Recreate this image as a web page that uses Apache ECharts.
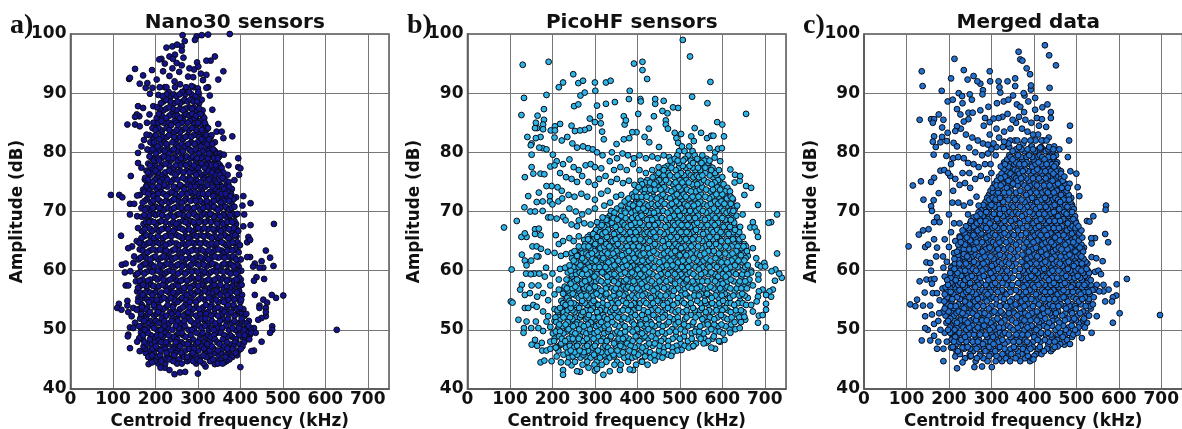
<!DOCTYPE html>
<html><head><meta charset="utf-8">
<style>html,body{margin:0;padding:0;background:#fff}#c{width:1182px;height:429px}</style>
<script src="https://cdn.jsdelivr.net/npm/echarts@6/dist/echarts.min.js"></script>
</head><body><div id="c"></div>
<script>
const panelTags=['a)','b)','c)'];
const panelTitles=['Nano30 sensors','PicoHF sensors','Merged data'];
const xTicks=[0,100,200,300,400,500,600,700];
const yTicks=[40,50,60,70,80,90,100];
const xName='Centroid frequency (kHz)';
const yName='Amplitude (dB)';

const nanoSparse=[[95,72.8],[115,72.8],[122,72.4],[140,92.6],[138,92.4],[152,94.1],[134,84.7],[152,86],[152,84.7],[119,65.9],[142,76],[140,71.3],[150,71.3],[140,69.5],[136,63.8],[145,64.1],[121,61],[130,61.2],[128,59.7],[141,59.9],[130,57.5],[136,57.5],[114,54.4],[110,53.7],[120,53.4],[134,54.9],[134,54.1],[136,53],[144,52.3],[140,50.4],[148,50.3],[136,49.2],[135,48.9],[140,46.9],[163,46.4],[157,48],
[627,50],[501,55.8],[484,55.4],[474,55.9],[479,67.9],[460,63.4],[470,62.2],[450,61.6],[478,60.8],[454,60.5],[445,60.5],[456,58.6],[438,58.9],[432,58.3],[434,61.2],[430,60.7],[423,62.3],[416,62.3],[434,55.9],[454,55.1],[463,54.6],[445,54.1],[445,53.7],[460,53.7],[460,53],[460,52.3],[450,52],[442,51.7],[475,50.6],[475,50],[470,49.5],[450,48],[432,46.5],[426,46.4],[400,43.7],[436,49.5],[432,50.3],[424,71.4],[407,72.6],[390,72.4],[405,71],[409,69.5],[424,67.7],[407,67.5],[419,65.7],[423,65.2],[416,64.8],[395,77.5],[400,77.3],[395,79],[397,76.2],[386,75.3],[381,82.7],[372,77.8],[360,82.4],[348,84.8],[356,83.5],[344,83.5],[352,79.8],[361,79.6],[360,93.7],[348,92.3],[340,96.2],[320,95.5],[330,95.5],[298,95.2],[328,89.6],[334,87.2],[324,91],[320,90.9],
[264,99.8],[269,98.8],[240,97.9],[251,98.2],[226,97.7],[262,97.9],[262,97.2],[293,99],[297,99.6],[309,99.8],[324,99.9],[375,100],[233,96.2],[241,95.8],[266,96],[246,96.5],[214,95.8],[209,95.7],[222,95],[250,95.1],[262,94.7],[301,94.5],[291,94],[320,93.1],[192,93.9],[171,93],[181,91.7],[163,91.6],[177,90.9],[193,90.9],[187,89.9],[159,87.8],[171,87.5],[195,87.8],[207,89.7],[203,92.3],[218,93.7],[233,92.9],[226,91],[210,91],[277,92.8],[289,92.7],[245,92],[258,91.5],[270,90.5],[285,91.2],[300,90.8],[312,92.2],[256,93.6],[307,93.3],[240,94.2],[280,94.2],
[159,79.9],[159,78.2],[167,77.4],[175,75.4],[171,73.7],[157,72.7],[163,72.8],[167,70.6],[157,69.2],[159,67.2],[156,65],[162,64.7],[150,62.4],[148,61.3],[154,59.3],[154,58.2],[157,56.5],[159,54.8],[148,53.7],[156,53.4],[152,51.2],[162,50.6],[162,48.6],[162,86.1],[156,86.4],[163,84.4],[179,83],[173,82.1],[167,81],[180,85],[186,86.4],[195,85],[233,43.2],[245,42.5],[258,42.8],[270,42.9],[300,42.6],[222,43.6],[212,43.6],[184,44.2],[192,44.5],[318,43.8],[340,44.2],[362,44.5]];
const nanoCore=[
[44.3,207,223,251,262,296,313,347,358],
[45,190,219,233,255,281,299,336,352,374],
[45.4,183,204,241,268,275,307,320,365,381],
[46.1,177,196,226,247,261,288,317,341,355,389],
[46.5,185,212,236,270,301,328,347,372,396],
[47.2,172,201,219,243,258,283,309,333,362,384,405],
[47.6,179,190,229,266,276,296,322,351,377,398],
[48.4,170,187,208,236,251,288,304,340,359,390,412,421],
[48.8,196,217,243,271,319,330,369,381,405],
[49.5,166,182,225,255,262,297,311,345,354,395,416,426],
[50,175,204,213,240,278,286,326,337,373,388,408],
[50.7,168,193,222,248,269,303,317,350,366,400,419],
[51.1,183,208,232,259,290,325,341,380,394,414],
[51.9,164,178,215,240,251,279,308,318,358,371,403],
[52.4,172,197,226,265,296,331,347,386,410],
[53,187,206,235,249,277,312,324,363,378,399],
[53.5,161,176,218,258,288,303,340,354,392,407],
[54.2,168,196,229,243,270,319,332,371,384],
[54.7,185,207,252,281,295,348,361,400],
[55.4,160,176,220,236,263,308,325,379,393],
[55.9,170,193,211,246,274,289,337,353,369,404],
[56.6,181,226,257,300,316,344,386,397],
[57.1,159,203,236,268,282,328,361,375],
[57.6,171,190,217,249,293,309,339,353,392,403],
[58.3,163,182,228,260,275,320,331,368,384],
[58.8,199,213,241,285,301,347,360,397],
[59.5,158,174,222,253,270,312,326,377,390],
[60,186,205,234,292,306,338,355,369,402],
[60.7,165,196,216,247,263,279,320,347,384,396],
[61.2,176,228,258,297,334,362,375],
[61.9,160,188,207,240,271,288,311,325,390,401],
[62.4,170,200,219,252,302,340,355,370,383],
[63.1,181,231,264,278,318,331,363,396],
[63.6,163,194,211,245,291,307,348,376,388],
[64.3,174,224,256,272,326,338,367,399],
[64.8,186,204,238,285,299,315,356,382,393],
[65.5,167,197,218,263,277,333,347,372],
[66,179,230,250,292,308,322,363,388],
[66.7,168,192,209,242,270,286,339,354,379,395],
[67.2,184,222,258,301,315,330,368,384],
[67.9,172,201,236,249,277,293,346,360,390],
[68.4,190,214,265,284,307,323,376,386],
[69.1,168,180,228,243,272,299,338,353,367],
[69.6,196,209,256,290,316,329,361,382,393],
[70.3,175,186,221,238,267,283,306,347,373],
[70.8,201,250,276,298,322,338,365,386],
[71.5,170,190,215,232,262,311,330,354,379],
[72.1,180,205,244,272,289,345,367,384],
[72.6,195,226,256,302,319,336,358,376],
[73.3,174,213,238,281,293,328,349,370],
[73.8,186,203,250,268,310,340,362,380],
[74.5,180,221,258,276,298,322,352,368],
[75,193,210,236,288,307,336,345,372],
[75.7,176,203,225,265,280,316,329,358],
[76.2,187,216,247,296,308,340,352,370],
[76.9,179,200,232,258,274,325,345],
[77.4,192,211,243,286,300,316,337,356],
[78.1,183,224,265,279,309,328,348],
[78.6,197,209,236,252,295,322,341],
[79.3,186,219,246,274,288,314,333,350],
[79.8,201,231,261,302,326,345],
[80.5,181,193,214,243,280,294,318,336],
[81,205,228,255,270,307,329],
[81.7,188,197,221,240,284,299,316,340],
[82.2,209,250,265,308,326],
[82.9,186,201,232,276,290,320,332],
[83.4,215,244,258,303,313],
[84.1,193,207,226,271,286,324],
[84.6,199,237,254,296,310,318],
[85.3,214,245,266,281,304],
[85.8,203,225,258,292,315],
[86.5,208,238,272,286,306],
[87.1,219,250,265,297,311],
[87.6,204,232,279,290],
[88.3,213,244,258,303],
[88.9,225,269,283,309],
[89.5,217,237,250,295],
[90.2,231,263,279,301],
[91,222,246,272,290]
];
const nanoFill=[
[44.7,198,214,242,275,289,305,329,344,367],
[45.7,192,211,228,244,264,284,294,313,329,349,366,378,392],
[46.8,176,193,206,223,241,254,279,291,314,324,337,358,369,381,401],
[47.9,174,199,213,225,248,261,279,300,315,328,346,368,387,409],
[49.1,171,189,204,213,231,250,265,283,306,324,338,362,376,398,410,422],
[50.3,166,181,197,218,230,255,263,291,309,332,345,357,381,397,414,424],
[51.5,173,187,201,221,238,252,268,283,300,316,333,352,367,386,403,420],
[52.7,166,183,203,215,239,254,271,284,305,319,338,357,372,393,404,414],
[53.8,168,181,198,210,225,241,265,280,296,312,329,347,368,384,399],
[55.1,165,181,191,203,213,229,244,258,272,285,301,316,333,343,360,372,386,402],
[56.3,165,176,188,199,214,232,242,252,268,282,294,308,323,336,351,365,376,392],
[57.4,164,178,195,208,223,241,254,274,287,301,314,334,347,368,381,398],
[58.5,169,188,205,219,235,248,265,280,294,307,325,340,354,373,391,401],
[59.8,164,179,193,211,227,241,260,275,286,299,316,331,344,360,371,384,394],
[61,171,181,191,210,222,236,252,268,284,302,314,328,341,358,370,379,392],
[62.2,165,178,194,214,225,237,247,262,280,294,307,319,332,348,363,378,387],
[63.4,170,187,203,218,225,240,254,270,285,298,312,325,339,356,369,381,392],
[64.6,168,181,193,210,218,232,249,265,278,291,306,320,332,344,361,374,387],
[65.8,173,188,206,224,237,256,270,284,298,314,327,340,354,367,379,391],
[67,175,189,203,215,230,246,264,279,295,309,323,336,349,360,373,391],
[68.2,178,185,196,208,224,242,256,271,290,303,316,331,344,355,369,381],
[69.4,174,186,201,216,235,250,264,278,294,309,323,334,347,360,376,388],
[70.6,180,194,209,214,229,244,261,275,291,312,327,341,353,368,380],
[71.8,175,195,210,225,239,254,268,283,295,305,321,338,350,361,373],
[73,183,192,206,219,232,246,262,275,287,300,312,324,343,356,365,378],
[74.2,178,194,208,216,228,243,255,264,283,293,304,317,334,346,358,374],
[75.4,183,199,215,228,243,252,271,283,295,313,326,339,351,363],
[76.6,183,193,206,223,238,252,266,280,291,303,320,333,347,360],
[77.8,187,199,215,232,248,258,272,291,305,320,332,342,352],
[79,192,205,214,230,241,260,269,283,298,308,323,338,347],
[80.2,188,207,222,237,252,265,285,297,311,325,340],
[81.4,194,212,226,248,262,277,292,304,322,334],
[82.6,194,216,227,244,258,271,284,303,316,330],
[83.8,200,212,233,250,264,279,296,309,320],
[85,207,219,232,250,262,276,290,300,316],
[86.2,215,233,246,252,268,280,296,311],
[87.4,210,226,241,258,271,286,303],
[88.6,219,235,252,264,276,290,298],
[89.8,226,243,257,270,285,302]
];

const picoSparse=[[86,67.3],[104,60.2],[102,54.8],[106,54.6],[116,68.4],[120,51.7],[130,94.8],[191,95.3],[133,89.2],[127,86.3],[186,89.7],[180,87.3],[165,86.2],
[507,99],[524,96.2],[392,95],[412,95.3],[412,93.9],[423,92.4],[572,91.9],[249,93.2],[225,91.8],[215,91],[261,91.7],[272,92.1],[300,91.8],[301,90.4],[266,89.6],[276,90.1],[326,91.8],[337,92.1],[382,90.4],[380,89],[407,89],[408,88.6],[442,89],[442,88.2],[462,88.7],[484,87.6],[496,87.5],[529,89.4],[565,88.3],[656,86.5],[251,87.8],[261,88.1],[305,87.9],[326,88.2],[347,88.5],[368,86.1],[373,85.4],[370,84.7],[402,86.5],[439,86.1],[459,87],[471,86.6],[467,85.4],[467,84.7],[472,84],[535,84.1],[550,83.3],[564,82.4],[574,82.8],[579,82.8],[588,85.1],[600,84.7],[604,82.7],[590,80.6],[599,80.7],[570,80.7],[527,82.7],[533,81.9],[503,83.1],[488,83.3],[492,82.4],[496,81.6],[427,84],[417,82.6],[428,81.7],[451,80.9],[398,83.4],[388,83.4],[368,82.2],[381,82.4],[351,81.4],[317,83.5],[321,82.2],[312,86.1],[288,85.7],[300,85.1],[314,84.9],[286,84.1],[276,83.8],[265,83.7],[253,83.6],[245,84.5],[218,84.8],[206,84.4],[196,83.7],[206,83.7],[164,84.1],
[141,82.6],[159,84.1],[161,85],[180,85.5],[178,84.7],[178,83.9],[172,82.6],[161,82.4],[151,81.5],[149,81.2],[151,79.6],[169,80.8],[177,80.7],[186,80.5],[201,79.6],[151,77.5],[155,76.4],[172,76.4],[181,76.3],[135,75.8],[186,74.3],[198,74.3],[212,74.1],[143,72.6],[168,73.2],[163,71.6],[177,71.7],[134,70.7],[148,70],[159,70],[177,70.1],[194,72.6],[194,71.7],[200,71.2],[214,71.7],[223,72.2],[190,69],[196,69],[210,68.8],[225,69.1],[231,68.5],[127,65.7],[135,66.3],[139,65.7],[159,67],[168,67.1],[159,66.2],[172,66],[153,64.1],[163,64.1],[173,63.7],[189,63.2],[128,62.7],[135,61.7],[139,60.9],[150,61.7],[163,62.4],[167,62.4],[185,60.5],[138,59.5],[149,59.4],[157,59.5],[169,59.5],[182,59],[128,57.6],[124,56.8],[135,55.9],[147,56.2],[151,57.5],[167,57.5],[178,56.2],[164,55.6],[135,53.7],[143,53.7],[155,54.2],[163,53.9],[178,53.1],[139,51.4],[161,51.4],[186,51.4],[133,50.3],[132,49.5],[150,50.3],[167,50.3],[159,48.3],[151,47.5],[164,47.3],[175,47.8],[176,46.5],[172,44.5],[181,44.8],[198,44.7],[225,43.2],[225,42.4],[186,46.5],
[205,82.5],[222,82],[235,82.6],[247,81.5],[258,80.8],[272,81],[284,80.7],[295,80.5],[305,80],[318,79.5],[335,78.5],[210,78.5],[225,78],[240,78.8],[250,77.5],[262,77],[278,77.8],[290,78],[300,77.5],[315,77.3],[195,77.6],[205,77.8],[218,76.5],[232,75.8],[245,75.5],[258,75],[270,76],[285,75],[300,74.5],[222,73.5],[238,72.8],[252,72.5],[268,73],[282,72.5],[300,72],[315,73],[330,73.5],[240,70.5],[255,70],[270,69.5],[285,70],[300,70.5],[245,67.8],[258,67.5],[240,65.5],[225,65],[215,64.5],[208,66],[220,62.5],[205,63],[200,59.5],[215,58.5],[195,57.5],[205,56],[190,55],[205,53.5],[195,50.5],[205,48.5],[195,46.8],[210,45.5],[220,47.5],[220,44.5],[236,44.5],
[340,80],[352,79],[365,79.8],[378,79.5],[392,79],[405,79.5],[420,79],[435,79.3],[448,79],[462,79.5],[475,79.2],[345,77],[360,77.5],[375,77],[390,78],[405,77],[420,76.5],[435,77],[450,77.5],
[310,75.5],[325,76],[338,75],[352,75.5],[366,74.8],[380,75.2],[393,74.5],[408,75.2],[322,71],[336,71.5],[350,72.5],[362,72.8],[376,72],[262,68.5],[275,68],[290,67.8],[305,68.2],[318,69],[332,68.5],[345,69.2],[250,65],[262,65.8],[275,65.2],[288,66],[232,62.8],[245,63],[258,62.5],[218,60.3],[230,60.5],[243,60],[215,56.8],[228,57],[213,53],[225,54],[190,52.3],[178,49.8],[205,51.5],[215,50.5],[195,48],[208,47],
[740,58.8],[734,59.5],[725,60.2],[716,59.9],[729,62.9],[729,69.5],[715,68.2],[709,68.1],[684,71.1],[672,68.2],[666,67.3],[676,67.3],[681,66.6],[684,65.7],[724,58.3],[719,56.8],[711,56.5],[703,55.9],[715,55.6],[703,54.4],[703,53.4],[695,52.5],[686,52.4],[684,51.2],[703,50.4],[699,61.3],[701,60.7],[684,61],[691,60.7],[685,59.3],[685,58.5],[695,56.8],[686,56.5],[684,55.6],[681,54.8],[668,54.2],[672,53.1],[654,51.7],[641,50.3],[652,52.2],[672,63.8],[656,64.1],[680,62.1],[668,74],[656,74.3],[652,72.8],[641,75.2],[630,76.2],[642,76],[619,77.1],[629,74.9],[595,78.5],[582,79.1],[583,80],[612,74],[625,72],[635,71],[648,69.5],[660,62.5],[668,60],[672,57.5],[660,58],
[583,46.8],[574,47],[595,48],[605,48.3],[619,49.5],[562,47.8],[531,47.2],[504,46.6],[480,45.6],[320,42.4],[359,43.2],[390,43.2],[382,43.3],[441,44.8],[335,43],[410,44.7],[265,42.9],[258,43],[285,43.6],[300,43.1],[245,44],[305,43.4]];
const picoCore=[
[44.1,271,299,316,346,361,397,424],
[44.6,253,282,304,327,352,378,411],
[45.3,239,266,290,312,335,369,388,431,459],
[45.8,226,258,273,298,321,344,358,402,440,472],
[46.5,214,243,264,284,307,338,353,381,420,451,494],
[47,209,232,251,276,295,319,331,367,394,412,463,482,521],
[47.7,221,240,262,286,303,345,361,376,428,441,502,538,556],
[48.1,204,230,255,272,314,328,351,389,405,456,473,519,567,592],
[48.9,216,246,265,291,307,338,372,396,417,433,491,510,545,580],
[49.4,201,226,254,280,299,322,347,360,411,449,466,528,556,602],
[50.1,212,238,263,288,312,333,381,399,426,482,502,539,574,617,631],
[50.6,224,249,274,303,323,356,371,416,441,460,519,548,590,608],
[51.3,209,236,258,291,315,341,388,407,431,474,497,532,565,629,644],
[51.8,219,247,279,300,329,362,377,420,451,484,512,553,581,612],
[52.5,213,233,268,286,319,346,395,411,438,465,526,544,597,636],
[53,226,252,272,305,336,358,384,425,457,490,508,561,577,620,650],
[53.7,218,243,263,295,316,347,370,404,442,472,531,552,593,607],
[54.2,231,256,282,308,330,385,398,429,461,485,517,568,584,628,656],
[54.9,221,240,270,297,351,366,415,447,477,504,541,559,602,642],
[55.4,235,262,285,319,336,381,396,432,461,496,525,575,591,618,660],
[56.1,225,248,275,304,327,358,372,418,449,471,513,550,564,606,647],
[56.6,238,262,290,315,345,391,405,438,486,503,535,586,598,629],
[57.3,229,254,281,300,332,368,379,423,456,470,520,548,572,612,652],
[57.8,243,270,293,322,354,394,410,441,489,509,534,589,601,638],
[58.5,233,258,286,309,338,374,384,427,461,477,517,556,576,620,664],
[59,246,276,299,329,351,400,413,447,493,507,539,590,608,645],
[59.7,236,264,288,317,340,371,387,428,465,481,524,559,574,626,668],
[60.2,252,278,305,330,358,401,417,451,497,512,545,593,609,650],
[60.9,240,266,295,316,346,375,389,431,469,483,528,566,581,630,660],
[61.4,256,282,306,332,362,405,418,452,496,514,547,598,612,647],
[62.1,246,270,294,320,347,379,393,433,471,485,532,563,584,629,655],
[62.6,260,285,309,336,364,408,421,455,500,515,548,596,615,644],
[63.3,252,274,299,324,351,380,396,438,472,489,531,567,580,633,658],
[63.8,266,289,313,339,368,412,425,457,503,517,551,597,614,645],
[64.5,277,301,327,354,383,397,441,474,490,533,569,585,628,652],
[65,290,314,342,372,413,429,460,505,520,553,598,613,640],
[65.7,283,305,328,358,386,399,443,478,493,536,570,587,625,648],
[66.2,296,318,345,373,417,431,462,507,522,555,600,615,636],
[66.9,303,331,360,391,403,445,481,496,538,574,588,630],
[67.4,310,322,349,377,420,434,466,510,524,556,603,618,642],
[68.1,317,340,365,394,406,448,484,497,541,575,590,628],
[68.6,327,353,381,423,435,468,512,526,559,607,620],
[69.3,335,362,397,410,451,486,500,543,577,593,633],
[69.8,346,372,386,427,439,471,516,530,562,610,624],
[70.5,352,378,402,414,454,489,503,546,580,596,630],
[71,362,390,426,443,475,518,533,565,612,626],
[71.7,370,397,410,457,491,506,548,583,598],
[72.2,379,403,431,446,477,522,535,569,611,624],
[72.9,388,416,460,493,509,550,586,600],
[73.4,396,424,437,480,526,538,572,607,618],
[74.1,403,428,449,463,497,512,553,588],
[74.6,411,440,484,529,541,575,603],
[75.3,423,451,467,500,515,557,590],
[75.8,436,458,487,532,545,578,600],
[76.5,450,473,503,519,560,583],
[77,462,490,536,548,574,592],
[77.7,471,507,523,556,570],
[78.2,482,498,531,551,566],
[78.9,488,512,541,563],
[79.5,494,520,535,553],
[80.2,498,511,530],
[81,505,522]
];
const picoFill=[
[45.5,248,278,302,324,345,379,396,418,449],
[46.2,236,252,274,292,315,330,366,392,408,430,462,483],
[47.3,216,241,258,282,300,325,349,360,384,403,421,436,452,472,492,511,532],
[48.5,222,238,248,262,281,297,320,335,356,366,380,411,425,443,462,483,500,528,549,558,577],
[49.7,208,218,233,246,272,290,306,331,353,371,389,404,419,436,458,476,491,512,536,546,565,584,594],
[50.9,216,231,243,256,268,283,295,310,330,347,364,392,408,423,434,451,468,490,510,529,556,566,581,598,621],
[52.1,207,226,241,254,265,283,296,309,323,338,354,369,384,402,426,445,460,476,495,516,537,558,571,589,604,622,640],
[53.3,212,236,247,262,279,290,312,327,342,351,366,378,391,415,433,449,465,481,497,516,535,548,569,586,600,613,632,644],
[54.5,225,243,250,270,276,292,302,318,339,355,374,392,407,421,437,454,470,493,510,526,548,561,576,593,611,620,637,648],
[55.8,230,241,255,268,280,296,311,326,344,352,367,388,403,412,426,440,455,467,483,503,517,534,545,558,570,584,599,613,626,640,653],
[57,234,247,260,275,287,298,308,326,340,349,362,374,387,400,415,431,446,463,479,496,512,528,540,556,566,579,595,606,619,634,645,658],
[58.2,240,252,265,277,290,303,315,330,345,361,369,381,391,405,418,434,452,468,483,500,515,530,542,553,565,583,597,612,627,641,654],
[59.4,244,256,270,282,294,304,322,336,346,362,378,393,407,421,436,455,472,488,502,518,532,550,567,583,601,615,632,647,659],
[60.6,250,262,273,287,300,311,325,338,350,366,382,396,409,424,440,458,476,490,505,520,537,553,570,587,603,619,636,654],
[61.7,250,268,276,292,302,316,326,340,355,370,385,399,412,427,443,461,478,492,507,522,540,556,572,591,605,622,638,652],
[62.9,256,270,280,293,304,317,330,343,357,372,388,402,415,429,445,463,480,495,509,525,541,558,575,592,607,624,639,650],
[64.1,262,275,285,297,309,322,334,347,361,376,390,404,418,433,449,465,482,497,511,527,543,560,576,593,608,622,636,650],
[65.3,284,296,308,322,336,349,365,380,393,407,421,436,452,468,484,499,514,530,545,562,578,594,610,625,640],
[66.5,300,312,325,338,352,367,383,396,409,424,438,454,470,486,502,516,531,547,563,579,596,611,626,640],
[67.7,316,329,342,357,370,385,398,412,427,441,456,472,488,504,518,533,549,565,582,598,612,628],
[68.9,328,344,358,372,388,402,416,430,443,458,476,492,506,521,536,551,567,584,600,614,626],
[70.1,338,362,370,384,396,408,420,432,447,461,478,495,510,524,539,554,570,587,603,618,626],
[71.3,376,382,394,405,418,434,449,464,481,498,512,527,542,556,573,590,605,620],
[72.5,392,399,410,422,438,452,467,484,500,514,530,544,560,576,592,608,620],
[73.7,410,418,430,442,455,470,486,502,517,532,547,562,578,595,610],
[74.9,418,430,444,458,474,490,506,521,536,550,566,582,596],
[76.1,444,462,477,494,510,526,540,553,570,586],
[77.4,464,480,498,514,530,543,560,577],
[78.6,478,495,508,526,545,558,570]
];

const mergedSparse=[[697,52.5],[619,58.6],[602,52.8],[586,51.2],[595,57.7],[594,55.8],[586,55.5],[584,54.8],[568,54.8],[576,56.8],[564,56.5],[564,57.6],[562,61.6],[570,71],[569,70.3],[568,66.2],[575,64.8],[547,62.1],[544,65.5],[535,65.5],[536,64.6],[540,69.2],[525,68.4],[531,68.3],[536,62.3],[552,60],[558,59.4],[544,59.8],[548,57.6],[544,56.8],[554,56.5],[548,52.3],[536,49.5],[513,48.6],[485,47.6],[472,47.5],[456,47.2],[485,84.5],[483,82],[503,74.1],[507,72.6],[500,76.4],[484,74.7],[486,76.8],[480,79.2],[452,94.7],[426,98.1],[436,96.4],[364,97],[368,95.7],[373,95.5],[383,94.2],[391,93.2],[393,91.3],[393,90.6],[437,90.9],[376,90],[403,89.2],[378,89.6],[387,88.6],[420,87.6],[432,88.1],[440,86.8],[440,85.8],[429,84.3],[356,92.5],[356,91.2],[338,92],[317,92],[319,91],[321,90.1],[297,92],[296,93.7],[258,92.9],[244,92.3],[235,93.9],[205,92.5],[213,95.8],[136,93.7],[138,91.2],[183,90.4],[197,88.6],[209,88.9],[223,90],[231,89.5],[232,88.3],[249,89.8],[254,88.9],[267,92],[274,91.6],[280,90.5],[279,89.8],[293,87.7],[285,85.8],[274,87.1],[296,85.1],[305,85.7],[313,88.3],[317,85.8],[329,88.6],[340,88.9],[351,89.6],[360,88.1],[368,87.7],[377,86.8],[403,87.2],[407,85.8],[419,85.6],[131,85.5],[158,85.6],[162,85],[176,86.4],[187,85.5],[165,85.6],[184,84.2],[197,83.3],[219,87.3],[227,86.4],[246,86.7],[256,86.7],[246,85.6],[235,85.2],[219,84.4],[215,83.6],[165,82.7],[162,81.8],[184,82.6],[180,81.7],[164,79.6],[169,80.9],[195,81.9],[211,81.6],[219,81],[194,79.4],[205,78],[115,74.4],[134,75.1],[140,72],[158,75],[165,75.7],[180,76.9],[189,77],[198,76.5],[176,73.1],[164,71.9],[158,70.9],[160,70.1],[172,69],[165,68.2],[178,68.2],[129,66.1],[139,66.8],[152,67],[105,64.1],[144,64],[151,64.4],[165,65.3],[172,63.9],[190,65.3],[147,61.4],[156,61.3],[158,60],[170,62.4],[186,62.4],[187,60.5],[131,58.2],[147,58.5],[158,58.5],[166,58.6],[160,57.8],[143,56.3],[162,56.2],[172,56.2],[125,55.1],[109,54.3],[121,54],[139,54.1],[156,54.1],[144,52.3],[160,52.6],[144,50.3],[136,48.2],[156,48.2],[172,46.8],[187,46.8],[187,44.7],[215,45.5],[219,43.5],[232,44.5],[260,43.7],[278,43.8],[301,43.7],[399,45],[325,44.7],
[228,84],[240,83],[255,82.5],[268,82],[280,81.5],[292,81.3],[305,81.5],[318,82.5],[330,83.5],[345,84],[358,85],[372,84],[385,83.5],[398,83],[410,83],[422,82],[435,82.5],[448,81],[460,80.5],[210,79],[222,79.2],[235,79],[245,78.2],[258,78],[270,77.5],[285,78],[298,78],[310,79.5],[203,76],[215,75.5],[225,74.5],[238,74.8],[250,74],[262,75.5],[275,76],[210,73.5],[208,71.5],[222,71.5],[235,71],[250,71.5],[265,72.5],[200,69.5],[212,68],[225,68],[240,67.5],[205,66.5],[215,65],[200,64],[212,63],[195,61.5],[205,60.5],[190,59],[185,57],[178,55],[185,53],[175,51.5],[180,50],[165,49],[175,48],[195,48],[205,47],[218,46],[300,80.5],[340,81.5],[355,82],[375,81.5],[395,81],[415,80.8],[435,80],
[282,84.5],[296,83],[312,84],[326,86],[338,86.5],[350,85.5],[365,86],[380,85.5],[394,85],[412,84.5],[330,81.8],[248,80.8],[262,80],[278,79.5],[292,79.8],[232,76.5],[248,76.5],[290,75.5],[300,76.5],[245,69.5],[258,69],[270,71],[225,65.8],[238,65],[222,61.8],[235,62.8],[212,59],[203,57],[196,55.5],[198,51.5],[190,49.5],[212,48.8],[232,47],[250,45.5],[150,50],[165,51],[177,52.8]];
const mergedCore=[
[44.7,263,291,310,344,368,391],
[45.2,238,266,281,318,334,357,379,395],
[45.9,226,249,274,299,326,347,371,405,418],
[46.4,221,257,286,309,338,362,384,424,440],
[47.1,209,233,244,270,295,320,353,376,397,414,449],
[47.6,218,260,280,305,331,368,389,434,462],
[48.3,206,229,246,271,314,326,358,380,409,426,455,478],
[48.8,215,238,263,290,304,345,371,401,442,468,490],
[49.5,203,225,251,277,320,332,364,390,417,433,462,483,503],
[50,198,213,241,262,296,311,352,378,406,451,475,497],
[50.7,205,230,255,283,307,339,370,395,424,443,469,489,514],
[51.2,194,219,244,270,298,323,358,384,412,436,460,506,525],
[51.9,203,227,259,280,314,345,372,401,427,451,481,495,518],
[52.4,192,212,239,266,293,331,361,387,416,442,467,503,530],
[53.1,199,223,250,279,307,322,352,375,407,433,457,488,516],
[53.6,190,211,236,262,294,340,368,392,421,447,476,499,534],
[54.3,197,222,249,273,312,328,357,385,412,438,463,490,511,539],
[54.8,189,206,238,261,289,344,371,401,427,453,480,506,528],
[55.5,198,219,248,276,305,322,360,387,416,442,470,493,520,541],
[56,190,211,233,263,291,336,373,405,431,456,484,510,532],
[56.7,197,225,246,279,310,325,358,390,420,446,470,499,523,538],
[57.2,192,213,238,262,295,343,376,402,433,459,488,514,530],
[57.9,204,227,250,276,309,326,363,391,418,447,473,497,524],
[58.4,196,216,238,266,293,340,378,406,435,462,489,513,534],
[59.1,208,229,254,282,312,328,365,394,422,448,476,503,520],
[59.6,203,220,241,270,298,343,380,409,437,465,491,516,530],
[60.3,213,232,256,286,315,331,367,396,424,451,480,505,524],
[60.8,209,224,246,272,301,348,383,411,440,467,494,514],
[61.5,217,238,259,289,318,334,371,399,427,454,482,506,522],
[62,213,228,247,276,305,351,385,414,442,470,497,517],
[62.7,222,241,263,292,320,336,373,402,430,456,484,508],
[63.2,219,232,252,279,309,354,388,417,445,472,498,516],
[63.9,227,246,268,296,323,340,376,405,433,459,486,508,518],
[64.4,222,238,258,283,311,358,390,420,447,474,500,512],
[65.1,232,250,272,299,327,343,378,408,436,461,488,506],
[65.6,226,242,262,288,315,361,393,422,450,476,498,514],
[66.3,237,255,276,303,331,346,381,410,439,464,490,507],
[66.8,232,247,268,292,319,363,396,425,452,478,499,512],
[67.5,243,259,281,308,334,350,384,412,441,466,491,505],
[68,250,266,286,296,322,367,399,428,454,480,500],
[68.7,258,273,291,313,340,355,387,416,444,469,493],
[69.2,265,280,302,327,372,402,430,457,482,497],
[69.9,270,288,312,343,358,390,420,447,471,490],
[70.4,276,295,320,330,375,405,433,460,484,494],
[71.1,281,300,316,347,362,393,423,449,474,490],
[71.6,286,308,328,378,408,435,462,486],
[72.3,290,303,320,350,365,396,426,451,476,488],
[72.8,294,312,333,382,411,438,464,482],
[73.5,298,321,346,368,399,428,454,477],
[74,303,315,336,385,414,441,466,480],
[74.7,308,327,351,371,402,430,457,475],
[75.2,313,340,362,388,416,444,468],
[75.9,318,332,354,375,405,433,458,472],
[76.4,324,345,366,393,419,446,464],
[77.1,329,355,379,408,435,458],
[77.6,322,340,369,396,422,448],
[78.3,330,358,383,411,438,455],
[78.8,337,350,372,399,425,447],
[79.5,342,363,389,414,441,452],
[80.2,350,378,402,428,445],
[80.9,312,327,342,365,393,417,436]
];
const mergedFill=[
[45.6,252,272,295,312,340,362,386,401],
[46.8,214,236,250,265,282,300,315,331,345,357,374,392,410,431,445],
[48,212,224,241,256,268,286,298,317,338,352,365,384,398,416,436,449,470],
[49.2,208,221,235,247,259,273,287,300,313,327,341,359,373,386,401,413,428,440,456,474,493],
[50.4,202,218,234,248,268,278,290,303,318,328,345,362,385,399,412,431,458,482,505,520],
[51.6,200,212,228,238,252,264,278,289,305,318,331,349,366,378,392,407,420,444,456,473,490,499,516],
[52.8,197,207,218,232,245,256,272,284,301,314,326,341,354,368,380,395,410,424,438,452,474,490,509,524],
[54,193,204,216,229,241,255,267,281,300,320,335,348,363,378,398,417,433,445,458,471,484,497,522,532],
[55.2,194,208,226,240,256,268,284,297,312,330,349,366,380,394,409,423,436,449,463,476,500,514,530],
[56.4,194,204,218,231,241,254,271,286,298,315,330,345,365,381,396,412,426,439,451,465,478,492,505,518,529],
[57.6,198,208,222,233,244,257,270,287,302,316,335,349,369,383,397,411,426,440,453,466,479,492,506,519,534],
[58.8,204,218,235,246,260,274,290,304,319,334,350,370,386,400,414,429,443,455,470,483,496,509,527],
[60,208,226,238,250,264,279,293,307,322,337,355,374,389,403,417,431,444,458,473,486,499,512,527],
[61.2,214,225,240,252,266,281,295,310,325,341,357,376,391,406,420,434,447,461,475,488,500,513,526],
[62.4,218,234,243,256,270,284,298,313,328,343,360,378,394,408,422,436,449,463,477,490,502,512],
[63.6,224,235,248,260,273,287,301,316,330,346,363,381,397,411,425,438,452,465,479,491,503,514],
[64.8,228,243,254,265,278,292,304,319,335,349,366,383,399,414,428,441,455,468,481,493,504],
[66,235,244,258,270,282,296,309,323,338,353,370,387,402,416,431,444,457,470,483,496,506],
[67.2,246,255,265,277,288,302,314,329,343,358,374,390,405,419,434,447,459,473,486,498],
[68.4,252,262,274,287,300,315,331,346,360,376,392,407,421,436,449,462,475,487,498],
[69.6,274,284,294,306,320,336,350,364,380,397,412,425,438,452,465,477,488],
[70.8,285,296,307,322,338,352,368,384,399,414,428,441,455,467,479,490],
[72,295,310,324,340,356,371,387,402,418,431,444,457,470,483],
[73.2,304,316,330,342,358,375,391,406,420,433,447,460,472],
[74.4,312,322,338,348,362,378,392,407,424,437,450,462,474],
[75.6,322,334,348,358,370,382,398,412,428,440,453,464],
[76.8,336,350,362,374,386,400,414,427,440,453,464],
[78,332,345,354,366,378,390,404,417,430,443,452],
[79.2,345,358,370,383,396,408,420,434,446],
[80.5,358,371,385,398,410,422,434,446],
[82,344,361,378,392,404,418,430]
];

function collect(sparse,core,fill){
  const pts=[];
  core.concat(fill).forEach(function(r){for(let i=1;i<r.length;i++)pts.push([r[i],r[0]]);});
  const all=pts.concat(sparse);
  // draw order only: a fixed reordering so that no row always lies on top of the last
  return all.map(function(p,i){return [(i*389)%all.length,p];}).sort(function(a,b){return a[0]-b[0];}).map(function(e){return e[1];});
}
const dataSets=[collect(nanoSparse,nanoCore,nanoFill),collect(picoSparse,picoCore,picoFill),collect(mergedSparse,mergedCore,mergedFill)];
const fillColors=['#14148e','#2eb5e8','#2272d0'];
const lefts=[70.5,467.5,864];
const plotW=318.5,plotTop=34,plotH=355;
const tagLefts=[5,402,798];
const font='"DejaVu Sans"';
const grids=[],xAxes=[],yAxes=[],series=[],titles=[];
lefts.forEach(function(l,i){
  grids.push({left:l,top:plotTop,width:plotW,height:plotH,containLabel:false,outerBoundsMode:'none',show:true,borderColor:'#555',borderWidth:1.5,backgroundColor:'transparent'});
  xAxes.push({type:'value',gridIndex:i,min:0,max:750,interval:100,name:xName,nameLocation:'middle',nameGap:24,nameMoveOverlap:false,
    nameTextStyle:{fontFamily:font,fontWeight:'bold',fontSize:16.8,color:'#111'},
    axisLine:{show:true,onZero:false,lineStyle:{color:'#555',width:1.5}},axisTick:{show:false},
    splitLine:{show:true,lineStyle:{color:'#777',width:1}},
    axisLabel:{fontFamily:font,fontWeight:'bold',fontSize:17,color:'#111',margin:2,showMaxLabel:false,hideOverlap:false,
      formatter:function(v){return xTicks.indexOf(v)>=0?String(v):'';}}});
  yAxes.push({type:'value',gridIndex:i,min:40,max:100,interval:10,name:yName,nameLocation:'middle',nameGap:44,nameMoveOverlap:false,
    nameTextStyle:{fontFamily:font,fontWeight:'bold',fontSize:16.8,color:'#111'},
    axisLine:{show:true,onZero:false,lineStyle:{color:'#555',width:1.5}},axisTick:{show:false},
    splitLine:{show:true,lineStyle:{color:'#777',width:1}},
    axisLabel:{fontFamily:font,fontWeight:'bold',fontSize:17,color:'#111',margin:4,hideOverlap:false,
      formatter:function(v){return yTicks.indexOf(v)>=0?String(v):'';}}});
  series.push({type:'scatter',xAxisIndex:i,yAxisIndex:i,data:dataSets[i],symbol:'circle',symbolSize:5.8,clip:true,large:false,animation:false,silent:true,
    itemStyle:{color:fillColors[i],borderColor:'#0a0a14',borderWidth:1,opacity:1}});
  titles.push({text:panelTitles[i],left:l+plotW/2,top:8,textAlign:'center',
    textStyle:{fontFamily:font,fontWeight:'bold',fontSize:20,color:'#111'}});
  titles.push({text:panelTags[i],left:tagLefts[i],top:7,
    textStyle:{fontFamily:'"Liberation Serif"',fontWeight:'bold',fontSize:28,color:'#111'}});
});
const chart=echarts.init(document.getElementById('c'),null,{renderer:'canvas'});
chart.setOption({animation:false,backgroundColor:'#fff',title:titles,grid:grids,xAxis:xAxes,yAxis:yAxes,series:series});
</script></body></html>
